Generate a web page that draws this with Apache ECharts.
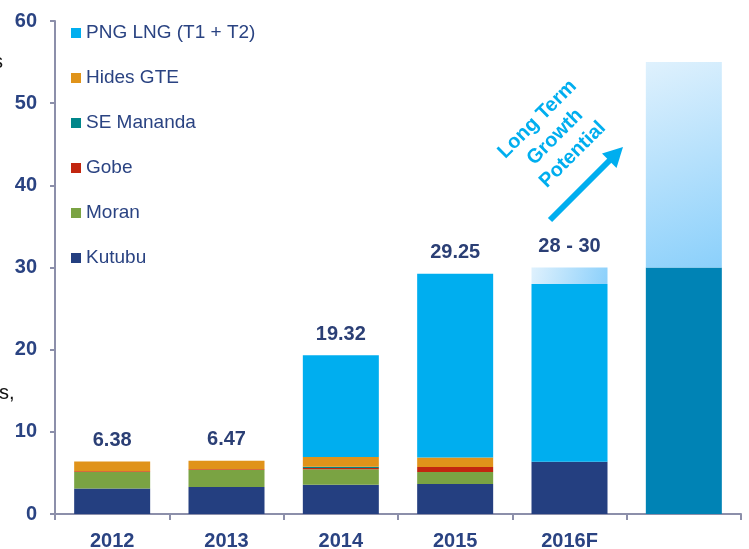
<!DOCTYPE html>
<html>
<head>
<meta charset="utf-8">
<script src="https://cdn.jsdelivr.net/npm/echarts@6/dist/echarts.min.js"></script>
<style>html,body{margin:0;padding:0;background:#fff;}#c{width:749px;height:549px;}</style>
</head>
<body>
<div id="c"></div>
<script>
const categories = ['2012', '2013', '2014', '2015', '2016F', ''];
const kutubu     = [3.10, 3.30, 3.55, 3.65, 6.35, null];
const moran      = [2.00, 2.05, 1.90, 1.47, null, null];
const gobe       = [0.10, 0.10, 0.15, 0.60, null, null];
const seMananda  = [null, null, 0.15, null, null, null];
const hidesGte   = [1.18, 1.02, 1.20, 1.15, null, null];
const pngLng     = [null, null, 12.37, 22.38, 21.65, null];
const forecastRange   = [null, null, null, null, 2.0, null];
const potentialBase   = [null, null, null, null, null, 30];
const potentialUpside = [null, null, null, null, null, 25];
const totalLabels = ['6.38', '6.47', '19.32', '29.25', '28 - 30', ''];
const yMin = 0, yMax = 60, yStep = 10;

const FONT = '"Liberation Sans", Arial, sans-serif';
const NAVY = '#2A4382';

const lightGrad = new echarts.graphic.LinearGradient(0, 0, 1, 1, [
  { offset: 0, color: '#DFF1FD' },
  { offset: 1, color: '#8BD0FB' }
]);

const stackDefs = [
  { name: 'Kutubu', data: kutubu, color: '#243F80' },
  { name: 'Moran', data: moran, color: '#7AA343' },
  { name: 'Gobe', data: gobe, color: '#C2260F' },
  { name: 'SE Mananda', data: seMananda, color: '#00868A' },
  { name: 'Hides GTE', data: hidesGte, color: '#E0931A' },
  { name: 'PNG LNG (T1 + T2)', data: pngLng, color: '#00AEEF' },
  { name: 'Range', data: forecastRange, color: lightGrad },
  { name: 'Potential', data: potentialBase, color: '#0083B5' },
  { name: 'Upside', data: potentialUpside, color: lightGrad }
];

// index of topmost series carrying a value for each category
const topIdx = categories.map((c, i) => {
  let t = -1;
  stackDefs.forEach((s, k) => { if (s.data[i] != null) t = k; });
  return t;
});

const series = stackDefs.map((s, k) => ({
  name: s.name,
  type: 'bar',
  stack: 'total',
  barWidth: 76,
  data: s.data,
  itemStyle: { color: s.color },
  emphasis: { disabled: true },
  label: {
    show: true,
    position: 'top',
    distance: 11,
    color: '#2B3F75',
    fontFamily: FONT,
    fontWeight: 'bold',
    fontSize: 20,
    formatter: p => (topIdx[p.dataIndex] === k ? totalLabels[p.dataIndex] : '')
  }
}));

const chart = echarts.init(document.getElementById('c'), null, { renderer: 'canvas' });
chart.setOption({
  animation: false,
  backgroundColor: '#ffffff',
  grid: { left: 55, right: 8, top: 21, bottom: 35, containLabel: false, outerBoundsMode: 'none' },
  legend: {
    orient: 'vertical',
    left: 66,
    top: 18,
    padding: 5,
    icon: 'rect',
    itemWidth: 10,
    itemHeight: 10,
    itemGap: 25,
    selectedMode: false,
    data: ['PNG LNG (T1 + T2)', 'Hides GTE', 'SE Mananda', 'Gobe', 'Moran', 'Kutubu'],
    textStyle: { color: NAVY, fontFamily: FONT, fontSize: 19, lineHeight: 20 }
  },
  xAxis: {
    type: 'category',
    data: categories,
    boundaryGap: true,
    axisLine: { lineStyle: { color: '#8C8FAA', width: 2 } },
    axisTick: { show: true, length: 6, alignWithLabel: false, lineStyle: { color: '#8C8FAA', width: 2 } },
    axisLabel: { color: NAVY, fontFamily: FONT, fontWeight: 'bold', fontSize: 20, margin: 17 }
  },
  yAxis: {
    type: 'value',
    min: yMin, max: yMax, interval: yStep,
    axisLine: { show: true, lineStyle: { color: '#8C8FAA', width: 2 } },
    axisTick: { show: true, length: 5, lineStyle: { color: '#8C8FAA', width: 2 } },
    splitLine: { show: false },
    axisLabel: { color: NAVY, fontFamily: FONT, fontWeight: 'bold', fontSize: 20, margin: 18 }
  },
  series: series,
  graphic: [
    { type: 'text', left: -7, top: 52, style: { text: 's', fill: '#111', font: '20px ' + FONT } },
    { type: 'text', left: -1, top: 383, style: { text: 's,', fill: '#111', font: '20px ' + FONT } },
    {
      type: 'line',
      shape: { x1: 550, y1: 220, x2: 611, y2: 159 },
      style: { stroke: '#00AEEF', lineWidth: 6 }
    },
    {
      type: 'polygon',
      shape: { points: [[623, 147], [616.5, 168], [602, 153.5]] },
      style: { fill: '#00AEEF' }
    },
    {
      type: 'text',
      x: 555, y: 137,
      rotation: Math.PI / 4,
      style: {
        text: 'Long Term\nGrowth\nPotential',
        fill: '#00AEEF',
        font: 'bold 20px ' + FONT,
        lineHeight: 25,
        align: 'center',
        verticalAlign: 'middle'
      }
    }
  ]
});
</script>
</body>
</html>
